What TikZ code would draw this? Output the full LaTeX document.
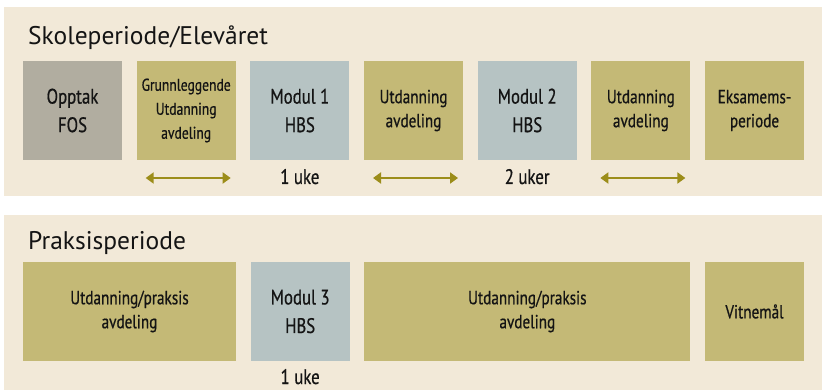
\documentclass[tikz,border=0pt]{standalone}
\usepackage{fontspec}
\setmainfont{PT Sans}
\newfontfamily\narrowfont[FakeStretch=0.8, FakeBold=0.6]{PT Sans}
\usetikzlibrary{positioning}
\usetikzlibrary{arrows.meta}

\definecolor{panelbg}{HTML}{F2E9D8}
\definecolor{olivebox}{HTML}{C4B976}
\definecolor{greybox}{HTML}{B1ADA0}
\definecolor{bluebox}{HTML}{B6C3C3}
\definecolor{spanol}{HTML}{9C8D1A}

\begin{document}
\begin{tikzpicture}[x=1pt, y=-1pt, node distance=14.67pt,
  blk/.style={minimum width=99pt, minimum height=99pt, inner sep=0pt, outer sep=0pt, align=center,
    text=black!92, font=\narrowfont\fontsize{21}{28.5}\selectfont},
  smalltxt/.style={font=\narrowfont\fontsize{19}{24}\selectfont},
  tinytxt/.style={font=\narrowfont\fontsize{17}{24}\selectfont},
  olive/.style={blk, fill=olivebox},
  modul/.style={blk, fill=bluebox},
  title/.style={anchor=base west, inner sep=0pt, text=black!92, font=\fontsize{25.5}{30}\selectfont},
  wk/.style={anchor=base, inner sep=0pt, text=black!92, font=\narrowfont\fontsize{21}{24}\selectfont},
  span/.style={draw=spanol, line width=2.5pt, {Triangle[length=8pt,width=11pt]}-{Triangle[length=8pt,width=11pt]}}
]
\useasboundingbox (0,0) rectangle (822,390);

% panels
\fill[panelbg] (4,7) rectangle (822,196);
\fill[panelbg] (4,215) rectangle (822,390);

% skoleperiode
\node[title] (t1) at (28,45) {Skoleperiode/Elevåret};
\node[blk, fill=greybox, anchor=north west] (op) at (23,61) {Opptak\\FOS};
\node[olive, tinytxt, right=of op] (gr) {Grunnleggende\\Utdanning\\avdeling};
\node[modul, right=of gr] (m1) {Modul 1\\HBS};
\node[olive, smalltxt, right=of m1] (ua) {Utdanning\\avdeling};
\node[modul, right=of ua] (m2) {Modul 2\\HBS};
\node[olive, smalltxt, right=of m2] (ub) {Utdanning\\avdeling};
\node[olive, smalltxt, right=of ub] (ek) {Eksamems-\\periode};

\node[wk] (w1) at ([yshift=-24pt]m1.south) {1 uke};
\node[wk] (w2) at ([yshift=-24pt]m2.south) {2 uker};

\foreach \b in {gr, ua, ub}
    \draw[span] ([shift={(9,18)}]\b.south west) -- ([shift={(-5,18)}]\b.south east);

% praksisperiode
\node[title] (t2) at (28,250) {Praksisperiode};
\node[olive, smalltxt, minimum width=213pt, anchor=north west] (pa) at (23,262) {Utdanning/praksis\\avdeling};
\node[modul, right=of pa] (m3) {Modul 3\\HBS};
\node[olive, smalltxt, minimum width=326pt, right=of m3] (pb) {Utdanning/praksis\\avdeling};
\node[olive, smalltxt, right=of pb] (vi) {Vitnemål};

\node[wk] (w3) at ([yshift=-23pt]m3.south) {1 uke};
%
\end{tikzpicture}
\end{document}
